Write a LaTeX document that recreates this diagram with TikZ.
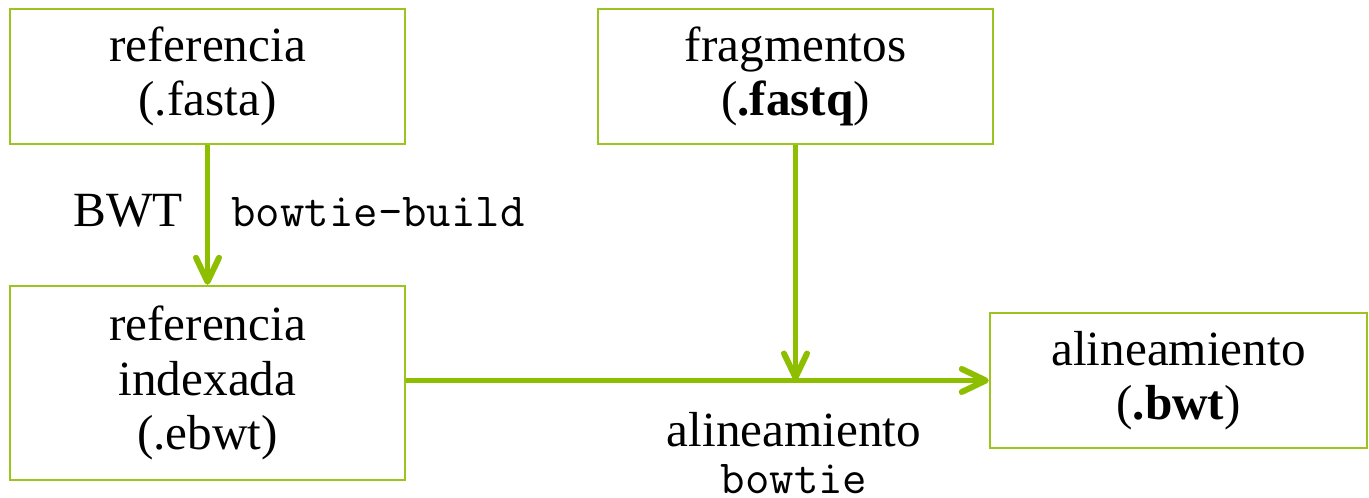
\documentclass[tikz,border=0pt]{standalone}
\usepackage{fontspec}
\setmainfont{Liberation Serif}
\usetikzlibrary{arrows.meta,positioning,calc}

\definecolor{boxgreen}{RGB}{155,196,30}
\definecolor{arrowgreen}{RGB}{141,190,0}

\begin{document}
\begin{tikzpicture}[
  font=\fontsize{28}{31}\selectfont,
  box/.style={draw=boxgreen, line width=1.4pt, align=center, minimum width=7.9cm,
    minimum height=2.7cm, inner sep=4pt},
  arrow/.style={-{Straight Barb[length=4.8mm, width=4.6mm, round]},
    draw=arrowgreen, line width=3.4pt},
  cmd/.style={font=\fontsize{27}{29}\selectfont\ttfamily}
]
  \useasboundingbox (0,0) rectangle (27.38,9.96);

  \node[box] (ref) at (4.15,8.43) {referencia\\(.fasta)};
  \node[box] (frag) at (15.91,8.43) {fragmentos\\(\textbf{.fastq})};
  \node[box, minimum height=3.88cm] (refidx) at (4.15,2.30) {referencia\\indexada\\(.ebwt)};
  \node[box, minimum width=7.54cm] (aln) at (23.57,2.35) {alineamiento\\(\textbf{.bwt})};

  \coordinate (join) at (frag.south |- aln.west);

  \draw[arrow] (ref) --
    node[pos=0.585, anchor=base east, inner sep=0, xshift=-4.4mm] (bwt) {BWT}
    node[pos=0.585, anchor=base west, inner sep=0, xshift=4.2mm, cmd] (build) {bowtie-build}
    (refidx);
  \draw[arrow] (frag) -- (join);
  \draw[arrow] (refidx.east |- aln.west) -- (aln.west);

  \node[anchor=base, inner sep=0] (alnlbl) at (15.88,1.02) {alineamiento};
  \node[anchor=base, inner sep=0, cmd] (bowtie) at (15.88,0.08) {bowtie};
\end{tikzpicture}
\end{document}
